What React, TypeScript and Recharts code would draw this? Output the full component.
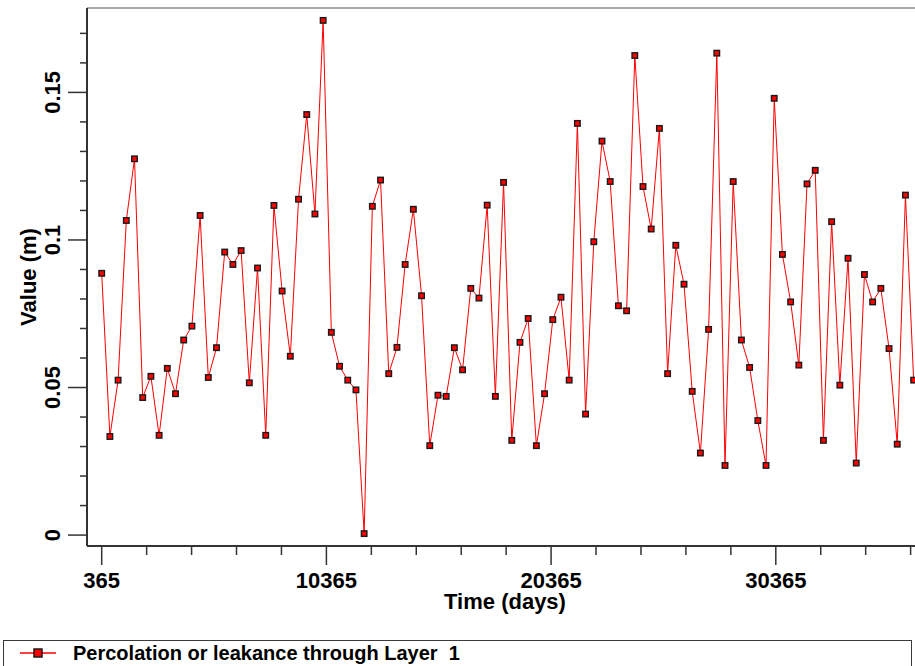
import { LineChart, Line, XAxis, YAxis, ReferenceLine } from "recharts";

// ─── Data (annual output, one value per 365 days) ───────────────────────────

const YEAR_STEP = 365;

const PERCOLATION = [
  0.0887, 0.0334, 0.0525, 0.1066, 0.1275, 0.0466, 0.0538, 0.0338, 0.0565, 0.0479,
  0.0661, 0.0708, 0.1083, 0.0534, 0.0635, 0.0959, 0.0917, 0.0964, 0.0516, 0.0905,
  0.0338, 0.1117, 0.0827, 0.0606, 0.1138, 0.1425, 0.1088, 0.1744, 0.0687, 0.0572,
  0.0525, 0.0492, 0.0005, 0.1114, 0.1203, 0.0547, 0.0636, 0.0917, 0.1104, 0.0811,
  0.0303, 0.0474, 0.047, 0.0635, 0.056, 0.0836, 0.0803, 0.1118, 0.047, 0.1195,
  0.0321, 0.0653, 0.0734, 0.0303, 0.0479, 0.073, 0.0806, 0.0525, 0.1395, 0.041,
  0.0994, 0.1335, 0.1198, 0.0777, 0.076, 0.1625, 0.1181, 0.1037, 0.1378, 0.0547,
  0.0982, 0.085, 0.0487, 0.0278, 0.0697, 0.1633, 0.0236, 0.1198, 0.0661, 0.0568,
  0.0388, 0.0236, 0.148, 0.0951, 0.079, 0.0576, 0.119, 0.1236, 0.0321, 0.1062,
  0.0508, 0.0938, 0.0244, 0.0883, 0.079, 0.0836, 0.0632, 0.0308, 0.1152, 0.0525,
];

const X_TICKS = [
  365, 2365, 4365, 6365, 8365, 10365, 12365, 14365, 16365, 18365, 20365, 22365,
  24365, 26365, 28365, 30365, 32365, 34365, 36365,
];
const X_MAJOR = [365, 10365, 20365, 30365];
const X_DOMAIN = [-289, 36560];

const Y_TICKS = [
  0, 0.01, 0.02, 0.03, 0.04, 0.05, 0.06, 0.07, 0.08, 0.09, 0.1, 0.11, 0.12,
  0.13, 0.14, 0.15, 0.16, 0.17,
];
const Y_MAJOR = [0, 0.05, 0.1, 0.15];
const Y_LABELS = ["0", "0.05", "0.1", "0.15"];
const Y_DOMAIN = [-0.0037, 0.1786];

const SERIES_NAME = "Percolation or leakance through Layer  1";

// ─── Styles ─────────────────────────────────────────────────────────────────

const FONT = "'Liberation Sans', Arial, sans-serif";
const AXIS = "#333333";
const RED = "#ff0000";

const chartData = PERCOLATION.map((value, i) => ({
  day: (i + 1) * YEAR_STEP,
  value,
}));

// ─── Ticks ──────────────────────────────────────────────────────────────────

function YTick({ x, y, payload }: any) {
  const idx = Y_MAJOR.findIndex((m) => Math.abs(m - payload.value) < 1e-6);
  const major = idx >= 0;
  const tx = x - 34;
  return (
    <g>
      <line x1={x - (major ? 19 : 7)} x2={x} y1={y} y2={y} stroke={AXIS} strokeWidth={1.5} />
      {major && (
        <text
          x={tx}
          y={y}
          transform={`rotate(-90 ${tx} ${y})`}
          textAnchor="middle"
          dominantBaseline="central"
          fontFamily={FONT}
          fontWeight="bold"
          fontSize={22}
          fill="#000"
        >
          {Y_LABELS[idx]}
        </text>
      )}
    </g>
  );
}

function XTick({ x, y, payload }: any) {
  const major = X_MAJOR.includes(payload.value);
  return (
    <g>
      <line x1={x} x2={x} y1={y} y2={y + (major ? 19 : 9)} stroke={AXIS} strokeWidth={1.5} />
      {major && (
        <text
          x={x}
          y={y + 34}
          textAnchor="middle"
          dominantBaseline="central"
          fontFamily={FONT}
          fontWeight="bold"
          fontSize={22}
          fill="#000"
        >
          {payload.value}
        </text>
      )}
    </g>
  );
}

function SquareDot({ cx, cy, index }: any) {
  return (
    <rect
      key={index}
      x={cx - 2.75}
      y={cy - 2.75}
      width={5.5}
      height={5.5}
      fill={RED}
      stroke="#1a1a1a"
      strokeWidth={1.4}
    />
  );
}

// ─── Chart ──────────────────────────────────────────────────────────────────

export default function App() {
  return (
    <div
      style={{
        position: "absolute",
        left: 0,
        top: 0,
        width: 915,
        height: 666,
        overflow: "hidden",
        background: "#fff",
      }}
    >
      <LineChart
        width={915}
        height={666}
        data={chartData}
        margin={{ top: 8, right: 0, bottom: 0, left: 0 }}
      >
        <ReferenceLine y={Y_DOMAIN[1]} stroke="#a8a8a8" strokeWidth={2} />
        <XAxis
          type="number"
          dataKey="day"
          domain={X_DOMAIN}
          ticks={X_TICKS}
          interval={0}
          allowDataOverflow
          height={120}
          tickSize={0}
          tickMargin={0}
          tickLine={false}
          axisLine={{ stroke: AXIS, strokeWidth: 2 }}
          tick={<XTick />}
          label={{
            content: ({ viewBox }: any) => (
              <text
                x={viewBox.x + viewBox.width / 2 + 4}
                y={viewBox.y + 55}
                textAnchor="middle"
                dominantBaseline="central"
                fontFamily={FONT}
                fontWeight="bold"
                fontSize={22}
                fill="#000"
              >
                Time (days)
              </text>
            ),
          }}
        />
        <YAxis
          type="number"
          domain={Y_DOMAIN}
          ticks={Y_TICKS}
          interval={0}
          allowDataOverflow
          width={87}
          tickSize={0}
          tickMargin={0}
          tickLine={false}
          axisLine={{ stroke: AXIS, strokeWidth: 2 }}
          tick={<YTick />}
          label={{
            content: ({ viewBox }: any) => {
              const cx = 28;
              const cy = viewBox.y + viewBox.height / 2;
              return (
                <text
                  x={cx}
                  y={cy}
                  transform={`rotate(-90 ${cx} ${cy})`}
                  textAnchor="middle"
                  dominantBaseline="central"
                  fontFamily={FONT}
                  fontWeight="bold"
                  fontSize={22}
                  fill="#000"
                >
                  Value (m)
                </text>
              );
            },
          }}
        />
        <Line
          type="linear"
          dataKey="value"
          stroke={RED}
          strokeWidth={1}
          dot={<SquareDot />}
          activeDot={false}
          isAnimationActive={false}
        />
      </LineChart>

      {/* Legend box */}
      <div
        style={{
          position: "absolute",
          left: 3,
          top: 640,
          width: 909,
          height: 40,
          border: "1px solid #3a3a3a",
          boxSizing: "border-box",
        }}
      >
        <svg width={40} height={16} style={{ position: "absolute", left: 16, top: 4 }}>
          <line x1={0} x2={36} y1={8} y2={8} stroke={RED} strokeWidth={1.5} />
          <rect x={14} y={4} width={8} height={8} fill={RED} stroke="#1a1a1a" strokeWidth={1.5} />
        </svg>
        <div
          style={{
            position: "absolute",
            left: 69,
            top: 1,
            lineHeight: "22px",
            fontFamily: FONT,
            fontWeight: "bold",
            fontSize: 20,
            whiteSpace: "pre",
            color: "#000",
          }}
        >
          {SERIES_NAME}
        </div>
      </div>
    </div>
  );
}
